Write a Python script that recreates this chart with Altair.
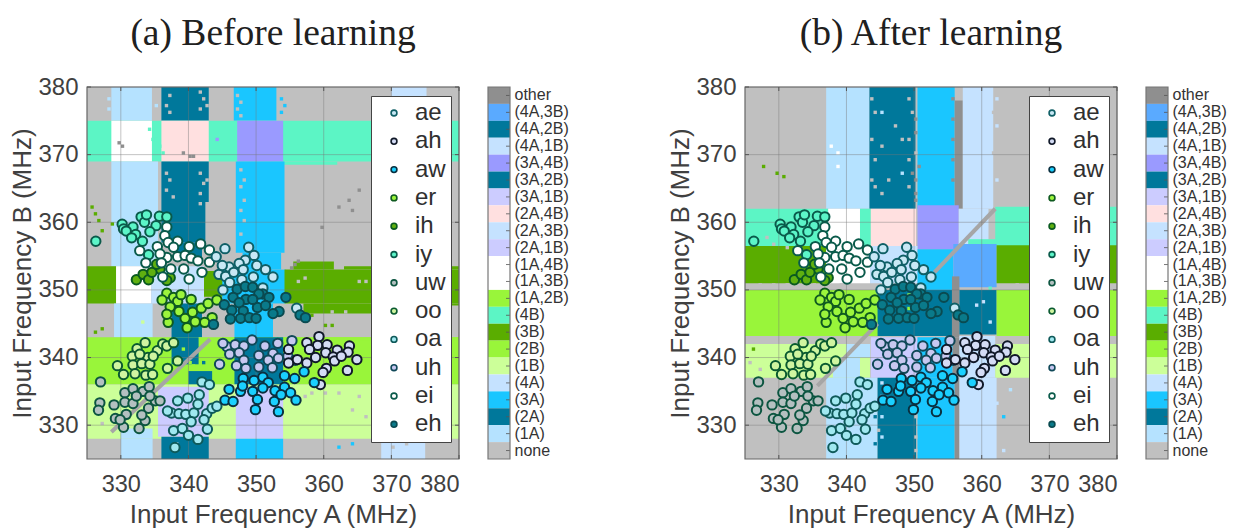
import altair as alt
import pandas as pd

CATS = ["other","(4A,3B)","(4A,2B)","(4A,1B)","(3A,4B)","(3A,2B)","(3A,1B)","(2A,4B)","(2A,3B)","(2A,1B)",
        "(1A,4B)","(1A,3B)","(1A,2B)","(4B)","(3B)","(2B)","(1B)","(4A)","(3A)","(2A)","(1A)","none"]
CAT_COLORS = ["#8f8f8f","#5aaaff","#00789b","#c5e2ff","#9a9aff","#00789b","#ccccff","#ffe0e0","#c5e2ff","#ccccff",
              "#ffffff","#ffffff","#99f53a","#5cf5c5","#5aad00","#99f53a","#ccff99","#c5e2ff","#1ac6ff","#00789b","#b5e2ff","#c0c0c0"]
COLOR = dict(zip(CATS, CAT_COLORS))

LEFT_REGIONS = [
 (325,380,325,380,"none"),
 (328.6,334.6,375,380,"(1A)"),(336,343,375,380,"(2A)"),(346.7,353,375,380,"(3A)"),(370,375.2,375,380,"(4A)"),
 (325,380,369,375,"(4B)"),(354,362,368.5,369,"(4B)"),(367,376,368.3,369,"(4B)"),
 (328.6,334.6,369,375,"(1A,4B)"),(336,343,369,375,"(2A,4B)"),(347.2,354,369,375,"(3A,4B)"),
 (328.6,335.5,353.5,369,"(1A)"),(336,343,363,369,"(2A)"),(336,342.5,357,363,"(2A)"),(338,342,354.5,357,"(2A)"),
 (347,354.2,355.5,369,"(3A)"),(348,353.7,353,355.5,"(3A)"),
 (329.5,335.5,353.5,355,"(1A)"),
 (325,329.3,348,353.5,"(3B)"),(329.3,334.5,348,353.5,"(1A,3B)"),(334.5,342.3,348,353.5,"(2A,3B)"),
 (342.3,345.5,349,352.8,"(3B)"),(345,352,348,353,"(3A)"),(352,354.4,348,353,"(3A)"),
 (354.2,380,348,353,"(3B)"),(355.5,361.5,353,354.2,"(3B)"),(363,380,353,353.5,"(3B)"),(357,367,346.5,348,"(3B)"),
 (372,380,347.7,348,"(3B)"),
 (329,334.7,343,348,"(1A)"),(337.5,342,343,348,"(2A)"),(346.8,352.5,343,348,"(3A)"),
 (325,380,336,343,"(2B)"),(345,380,342.5,343,"(2B)"),
 (337.5,341.5,339,343,"(3A,2B)"),(340,343.5,336,338,"(3A,2B)"),
 (346.8,354,336,343,"(3A,2B)"),
 (325,380,328,336,"(1B)"),(335.5,343,328.3,335.7,"(2A,1B)"),(347,354,328,335.7,"(3A,1B)"),
 (330,334.7,328,329.5,"(1A)"),
 (330,334.7,325,328,"(1A)"),(336,343,325,328.3,"(2A)"),(347,354,325,328,"(3A)"),(368.5,375,325,328,"(4A)"),
]

RIGHT_REGIONS = [
 (325,380,325,380,"none"),
 (337,343.4,362,380,"(1A)"),(343.4,350.2,362,380,"(2A)"),(350.5,356,362,380,"(3A)"),(356,357.2,362,378,"other"),
 (357.2,361.7,362,380,"(4A)"),
 (325,337.3,356.5,362,"(4B)"),(337.3,342,356,362,"(1A,4B)"),(342,343.6,356.5,362,"(4B)"),(343.6,350.3,356.5,362,"(2A,4B)"),
 (350.5,356.6,356,362.5,"(3A,4B)"),(356.6,361,352,362,"(4A)"),(362,380,356.5,362.3,"(4B)"),(358,362.2,356,357.5,"(4B)"),
 (325,337,351,356.5,"(3B)"),(337,343.5,351,356,"(1A,3B)"),(343.5,350.5,351,356.5,"(2A,3B)"),(350.5,355.8,350,356,"(3A)"),
 (355.8,362.2,350.4,356.8,"(4A,3B)"),(362.2,380,351,356.6,"(3B)"),
 (325,345,343.2,350,"(2B)"),(344.6,355.6,343.2,350,"(3A,2B)"),(355.6,356.7,343,352,"other"),
 (356.7,362.2,343.4,350,"(4A,2B)"),(362.2,380,343.2,350,"(2B)"),
 (325,343.5,337,342,"(1B)"),(343.6,350.5,337,343,"(2A,1B)"),(350.5,355.7,337,343,"(3A)"),(355.7,356.7,337,343,"other"),
 (356.7,362,337,343.2,"(4A,1B)"),(362,380,337,342,"(1B)"),
 (340,343.5,340,342,"(1A)"),(338,342,337,340,"(1A)"),
 (337,344.6,325,337,"(1A)"),(344.6,350.3,325,337,"(2A)"),(350.5,356,325,337,"(3A)"),(356,356.7,325,337,"other"),
 (356.7,362.2,325,337,"(4A)"),
]

LEFT_SPECK = [
 (337,378.5,"none"),(336.5,377,"none"),(337,376,"none"),(341.5,379,"none"),(342,378,"none"),(342.5,377,"none"),(341.5,376.5,"none"),
 (336.5,367,"none"),(337,366,"none"),(336.5,364.5,"none"),(337.5,363.5,"none"),(341.5,367,"none"),(342,365.5,"none"),(341.5,364,"none"),
 (342.5,366,"none"),(341.5,362.5,"none"),(347,378.5,"none"),(347.5,377.5,"none"),(347,376.5,"none"),(347.5,375.5,"none"),
 (347.5,367.5,"none"),(348,366,"none"),(347.5,365,"none"),(348,363,"none"),(347.5,361.5,"none"),(348,360,"none"),(347.5,358,"none"),
 (353.5,378,"(3A)"),(354,377,"(3A)"),(353.5,376,"(3A)"),(328,378,"(1A)"),(328,376.5,"(1A)"),(335,377,"(1A)"),
 (329.5,371.5,"other"),(330,371,"other"),(339,370,"other"),(340,369.5,"other"),(340.5,369.5,"other"),(364,361.5,"other"),
 (363.5,363,"other"),(365,364.5,"other"),(362,362,"other"),(359.5,359,"other"),(355.5,353.5,"other"),(356,354,"other"),(355,353,"other"),
 (325.5,362,"(3B)"),(326,361,"(3B)"),(326.5,360,"(3B)"),(328.5,359.5,"(3B)"),(327,358.5,"(3B)"),
 (335,372,"(4B)"),(335.5,371,"(4B)"),(335,370,"(4B)"),(334,373.5,"(4B)"),(334.5,372,"(4B)"),(336,370,"(4B)"),(344,372,"(3A,4B)"),
 (356,351,"none"),(357,351.5,"none"),(365,351,"none"),(366,351,"none"),(361,346.5,"none"),(363,346.5,"none"),(358,346,"(3B)"),
 (360,344.5,"(3B)"),(361,344.5,"(3B)"),(367,345,"(3B)"),(368,345,"(3B)"),
 (340,339,"(2B)"),(340.5,338.5,"(2B)"),(339,341,"(2B)"),(341.5,337,"(3A,2B)"),(342,339,"(3A,2B)"),
 (358,334.5,"none"),(360,334.5,"none"),(362,334.5,"none"),(365,334,"none"),(356,333.5,"none"),(357,334,"none"),
 (366,331,"none"),(364,332,"none"),(370,332.5,"none"),(327,330,"none"),(329,331,"none"),
 (362,326.5,"(3A)"),(364,327,"(3A)"),(372,327,"none"),(370,326.5,"none"),
 (338,327,"(1A)"),(335,340,"(1A)"),(333,345,"(1B)"),(327,344,"(3B)"),(326,343.5,"(3B)"),
]

RIGHT_SPECK = [
 (343.5,378,"none"),(344,376,"none"),(343.5,372,"none"),(344,369,"none"),(343.5,366,"none"),(344,365,"none"),(345,364,"none"),
 (349,378,"none"),(349.5,376,"none"),(349,372,"none"),(350,370,"none"),(349.5,367,"other"),(350,366,"other"),(349,365,"none"),
 (350,375,"other"),(350,373,"other"),(350.5,368,"other"),(350,364,"other"),(350,363,"other"),
 (345,376,"(1A)"),(347,374,"none"),(348,372,"none"),(345,371,"none"),(349,369,"none"),(346,366,"none"),(348,367,"(1A)"),
 (355.5,378,"other"),(355.5,375,"other"),(355.5,372,"other"),(355.5,369,"other"),(355.5,366,"other"),
 (361.5,376,"none"),(362,378,"(4A)"),(362,374,"(4A)"),(361.5,370,"none"),(362,366,"(4A)"),
 (327.5,368,"(3B)"),(329.5,367,"(3B)"),(330.5,366.5,"(3B)"),(337.5,371,"(1A,4B)"),(338.5,370,"(1A,4B)"),(338.5,368,"(1A,4B)"),
 (326,357,"none"),(328,357.5,"none"),(329,356.5,"none"),(331,356,"none"),
 (327,350.5,"none"),(329,350.5,"none"),(331,350.5,"none"),(335,350.5,"none"),(339,350.5,"none"),(365,350.5,"none"),(368,350.5,"none"),
 (370,350.5,"none"),(375,350.5,"none"),(378,350.5,"none"),
 (349,349,"(2B)"),(349.5,348,"(2B)"),(349,347,"(2B)"),(350,348.5,"(2B)"),
 (361,350,"(4B)"),(359,347.5,"(4A,1B)"),(360,348,"(4A,1B)"),(361,345,"(4A,1B)"),
 (345,336,"(4A,1B)"),(345,334,"(4A,1B)"),(345,331,"(1A)"),(345,328,"(1A)"),(350,331,"none"),(350,328,"none"),(350,326,"none"),
 (344,331,"(2A)"),(344,327,"(2A)"),(344.5,329,"none"),
 (364,335,"(1A)"),(363,331,"(3A)"),(367,332,"(1A)"),(362,333,"(4A)"),(363,326,"(4A)"),
 (325.5,339,"none"),(326,341,"(3B)"),(327,338,"none"),
]

LEFT_DIAG = [(328.6,329,343.2,342.7)]
RIGHT_DIAG = [(335.7,335.8,344.6,345),(353,352.6,362,362)]

VOWELS = ["ae","ah","aw","er","ih","iy","uw","oo","oa","uh","ei","eh"]
FILLS = ["#c8e8f5","#d4dcf5","#1ad0ff","#9cf53c","#5fb010","#5cf5c8","#b4c0c0","#d0f5a0","#a0e8f0","#c8c8f0","#ffffff","#0a7a8a"]
STROKES = ["#0f5f66","#101828","#0a3040","#0f5a20","#0a5a20","#0a5a4a","#0c5540","#0a5a30","#0f5a5a","#104858","#0a5a4a","#0a4a50"]

iy_x = [326.3,330.2,330.4,331.8,332.2,330.8,331.6,333.2,333,333.5,333.8,335.7,335.2,334.3,336.8,334.1]
iy_y = [357.2,359.7,359,359.3,358.2,358.7,357.7,357.2,360.8,360,361.1,360.9,359.5,358.6,360.8,355.2]
ih_x = [332.3,333.3,334.1,335.8,337.3,334.6,335.3,336.8]
ih_y = [351.5,352.3,351.5,353.1,351.8,352.6,353.8,351.4]
ei_x = [332.8,335.4,336.8,336.5,337,338.4,337.8,338.4,336.8,335.8,333.7,336,337.4,336.2,340.1,339.5,340.4,341.4,341.8,343.1,343.1,339.3,342,340.1]
ei_y = [355.8,356.4,359.3,358,357,357.2,356.3,354.9,354.8,355.3,354,354,353.1,351.9,356.4,355.1,354.7,354.3,356.8,355.9,354.1,353.1,352.6,351.6]
er_x = [336.8,336.1,337.8,338.4,338.9,340.4,337.3,338.6,337,339.5,340.6,341.9,342.9,344.2,343.5,342.4,341,339.8,336.8]
er_y = [349.5,348.5,348.9,348.3,349.3,348.6,347.5,346.8,345.2,345.8,346.7,347.3,348,348.5,345.9,345.2,345.3,344.4,346.4]
ae_x = [345.4,344.1,348.9,349.7,348.4,347.5,350.1,348.1,351.4,349.6,352.5,346,344.5,345.5,346.1,347.9,345.1,356,346.7,345,351]
ae_y = [356.1,354.9,356.3,355.1,354.4,353.9,353.6,353,353,351.9,351.9,353.4,352.3,352,351.1,351.5,350,347.3,352.6,353.6,350.3]
eh_x = [347.2,348.4,349.5,351,351.9,346.6,348.5,347.5,345.3,346.4,348.1,350.2,351.4,353.4,352.5,346.2,347.7,349,350,354.4,356.5,357.3,343.7,350.4,349.5]
eh_y = [350.1,350.5,350.4,349.4,348.9,348.9,348.6,348.1,347.8,347,346.9,347.4,347.7,346.8,346.5,345.7,345.8,345.9,345.8,348.9,346.3,345.9,344.9,349.4,348.6]
oo_x = [329.5,330.4,332.4,333.6,331.7,334,335.4,336.2,336.8,337.8,331.8,333.1,334.3,332.1,333.7,334.7,336.9,338.4,332.8,334.8]
oo_y = [338.8,337.5,341.3,342.2,340.2,340,341,342,341.7,342.2,338.9,339.1,339,337.6,337.4,337.5,338.4,339.5,340.5,340.2]
uw_x = [327,326.9,326.7,329,329.2,330.4,330.6,331.8,330.6,331.8,330.8,333.3,334.2,335.1,335.8,334.1,333.6,333.1,332.7,329.9,334.3,332.3]
uw_y = [336.4,333.3,332.2,333,331,329.7,334.8,335.4,333.4,333.2,331.6,335,335.7,333.6,333.6,332.5,330.7,331.5,329.5,330.8,334.3,334.3]
oa_x = [337.5,338.4,339.9,341.6,338.6,339.6,340.8,341.4,342.7,342.3,343.5,344.2,337.8,339.1,340,341.4,342.8,340.4,338,336.9,342,343.1]
oa_y = [331.8,333.6,334,334.5,331.7,331.6,331.8,333.1,331.7,330.8,332.5,332.8,329.2,329.5,328.5,327.9,329.4,330.5,326.7,332.1,336.4,336]
uh_x = [345.7,345.1,349.4,351.3,353.2,355.3,346.9,348.2,346.1,347.5,350.4,352.5,353.3,348.2,351.8,344.6,347.1,348.5,350.4,352.4,354.7,355.8]
uh_y = [341.6,342.1,342.6,341.7,342.1,342.5,341.9,341.7,340.5,340.7,340.3,340.6,339.9,339.6,339.6,339,338.8,338.4,338.6,338.5,340.2,339.6]
ah_x = [357.5,359.3,359.1,360.5,360.3,362,363.8,363.6,364.9,361.4,358.8,357.5,354.8,354.8,360.4,359.9,363.5,359.5,361.6,362.6,356.1,357.9]
ah_y = [342.2,343.1,341.8,341.9,340.7,341.1,341.7,340.8,339.7,340.1,340,339.2,341.2,339.2,338.4,337.8,338.1,336,339.5,340.2,339.7,341.2]
aw_x = [348.1,349.7,351,351.8,354.2,355.7,346,347.7,349.5,351,352.8,354.2,355.1,345.4,346.6,350.2,352.7,355.9,349.9,353.3,357.1,358.6,348,353.7]
aw_y = [336.9,336.6,337.1,336.3,337.3,336.9,335.3,335,335,335.5,335.1,335.6,334.8,333.7,333.5,333.8,333.5,333.7,332.3,332,337.9,336.3,335.8,334.5]

DRAW_ORDER = [("uw",uw_x,uw_y),("oo",oo_x,oo_y),("oa",oa_x,oa_y),("uh",uh_x,uh_y),("ah",ah_x,ah_y),("iy",iy_x,iy_y),
              ("ih",ih_x,ih_y),("ei",ei_x,ei_y),("ae",ae_x,ae_y),("er",er_x,er_y),("eh",eh_x,eh_y),("aw",aw_x,aw_y)]
points = pd.DataFrame([{"vowel":v,"x":a,"y":b} for v,xs,ys in DRAW_ORDER for a,b in zip(xs,ys)])

TICKS = [330,340,350,360,370,380]
CELL = 0.5
PLOT = 372
XS = alt.Scale(domain=[325,380], nice=False, zero=False)
YS = alt.Scale(domain=[325,380], nice=False, zero=False)
TXT = "#404040"
SANS = "Liberation Sans"

def panel(title, regions, speck, diag):
    rows = [{"x0":a,"x1":b,"y0":c,"y1":d,"c":COLOR[k]} for a,b,c,d,k in regions]
    rows += [{"x0":a,"x1":a+CELL,"y0":b,"y1":b+CELL,"c":COLOR[k]} for a,b,k in speck]
    rect = alt.Chart(pd.DataFrame(rows)).mark_rect(strokeWidth=0).encode(
        x=alt.X("x0:Q", scale=XS, title="Input Frequency A (MHz)",
                axis=alt.Axis(values=TICKS, grid=False, ticks=False, domain=False, labelFontSize=23.5, titleFontSize=26,
                              labelFont=SANS, titleFont=SANS, titleFontWeight="normal", labelColor=TXT, titleColor=TXT,
                              labelPadding=13, titlePadding=6, labelOverlap=False)),
        x2="x1:Q",
        y=alt.Y("y0:Q", scale=YS, title="Input Frequency B (MHz)",
                axis=alt.Axis(values=TICKS, grid=False, ticks=False, domain=False, labelFontSize=24, titleFontSize=26,
                              labelFont=SANS, titleFont=SANS, titleFontWeight="normal", labelColor=TXT, titleColor=TXT,
                              labelPadding=9, titlePadding=2, labelOverlap=False)),
        y2="y1:Q",
        color=alt.Color("c:N", scale=None, legend=None),
    )
    diag_df = pd.DataFrame(diag, columns=["x0","y0","x1","y1"])
    dg = alt.Chart(diag_df).mark_rule(color="#a6a6a6", strokeWidth=4).encode(
        x=alt.X("x0:Q", scale=XS), x2="x1:Q", y=alt.Y("y0:Q", scale=YS), y2="y1:Q")
    t_df = pd.DataFrame({"t":TICKS})
    gx = alt.Chart(t_df).mark_rule(color="#777777", strokeWidth=0.8, opacity=0.55).encode(x=alt.X("t:Q", scale=XS))
    gy = alt.Chart(t_df).mark_rule(color="#777777", strokeWidth=0.8, opacity=0.55).encode(y=alt.Y("t:Q", scale=YS))
    tbx = alt.Chart(t_df).mark_rule(color="#555555", strokeWidth=1).encode(
        x=alt.X("t:Q", scale=XS), y=alt.value(PLOT), y2=alt.value(PLOT-4))
    ttx = alt.Chart(t_df).mark_rule(color="#555555", strokeWidth=1).encode(
        x=alt.X("t:Q", scale=XS), y=alt.value(0), y2=alt.value(4))
    tly = alt.Chart(t_df).mark_rule(color="#555555", strokeWidth=1).encode(
        y=alt.Y("t:Q", scale=YS), x=alt.value(0), x2=alt.value(4))
    try_ = alt.Chart(t_df).mark_rule(color="#555555", strokeWidth=1).encode(
        y=alt.Y("t:Q", scale=YS), x=alt.value(PLOT), x2=alt.value(PLOT-4))
    frame = alt.Chart(pd.DataFrame({"a":[325],"b":[380]})).mark_rect(fillOpacity=0, stroke="#666666", strokeWidth=1.2).encode(
        x=alt.X("a:Q", scale=XS), x2="b:Q", y=alt.Y("a:Q", scale=YS), y2="b:Q")
    pts = alt.Chart(points).mark_circle(size=88, opacity=1, strokeWidth=2).encode(
        x=alt.X("x:Q", scale=XS),
        y=alt.Y("y:Q", scale=YS),
        fill=alt.Fill("vowel:N", scale=alt.Scale(domain=VOWELS, range=FILLS),
                      legend=alt.Legend(title=None, orient="none", legendX=284, legendY=9, fillColor="#ffffff",
                                        strokeColor="#444444", padding=5, symbolSize=34, symbolStrokeWidth=1.6,
                                        symbolType="circle", symbolOffset=6, labelFontSize=24, labelFont=SANS, labelColor="#303030",
                                        labelOffset=9, rowPadding=4.3, zindex=1)),
        stroke=alt.Stroke("vowel:N", scale=alt.Scale(domain=VOWELS, range=STROKES), legend=None),
    )
    return alt.layer(rect, dg, gx, gy, frame, tbx, ttx, tly, try_, pts).properties(
        width=PLOT, height=PLOT,
        title=alt.TitleParams(title, font="Liberation Serif", fontSize=37.5, fontWeight="normal", color="#202020",
                              anchor="middle", offset=-15, baseline="bottom"))

def colorbar():
    df = pd.DataFrame({"cat":CATS})
    yy = alt.Y("cat:N", sort=CATS, scale=alt.Scale(domain=CATS, paddingInner=0, paddingOuter=0),
               title=None, axis=alt.Axis(orient="right", domain=False, ticks=False, labelFontSize=16, labelFont=SANS,
                                         labelColor="#333333", labelPadding=4, labelOverlap=False))
    cells = alt.Chart(df).mark_rect(strokeWidth=0).encode(
        y=yy, x=alt.value(0), x2=alt.value(22),
        color=alt.Color("cat:N", scale=alt.Scale(domain=CATS, range=CAT_COLORS), legend=None))
    tk = alt.Chart(df).mark_rule(color="#555555", strokeWidth=0.8).encode(
        y=yy, x=alt.value(18), x2=alt.value(22))
    border = alt.Chart(pd.DataFrame({"a":[0]})).mark_rect(fillOpacity=0, stroke="#777777", strokeWidth=1.2).encode(
        x=alt.value(0), x2=alt.value(22), y=alt.value(0), y2=alt.value(PLOT))
    return alt.layer(cells, tk, border).properties(width=22, height=PLOT,
        title=alt.TitleParams(" ", font="Liberation Serif", fontSize=37.5, fontWeight="normal", offset=-15, baseline="bottom"))

def pair(p):
    return alt.hconcat(p, colorbar(), spacing=27).resolve_scale(fill="independent", stroke="independent", color="independent")

left = pair(panel("(a) Before learning", LEFT_REGIONS, LEFT_SPECK, LEFT_DIAG))
right = pair(panel("(b) After learning", RIGHT_REGIONS, RIGHT_SPECK, RIGHT_DIAG))
chart = (alt.hconcat(left, right, spacing=98)
         .resolve_scale(fill="independent", stroke="independent", color="independent")
         .properties(padding={"top":6,"left":1,"right":0,"bottom":0}, background="#ffffff")
         .configure_view(stroke=None))
chart.save("out.html", embed_options={"renderer": "svg", "actions": False})
